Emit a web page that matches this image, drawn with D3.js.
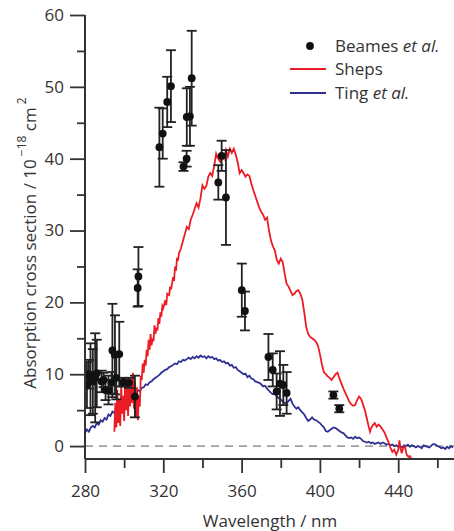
<!DOCTYPE html>
<html>
<head>
<meta charset="utf-8">
<script src="https://cdn.jsdelivr.net/npm/d3@7"></script>
<style>
html,body{margin:0;padding:0;background:#fff;}
svg{display:block;}
text{font-family:"Open Sans","Noto Sans",sans-serif;fill:#333;}
</style>
</head>
<body>
<svg id="chart" width="454" height="531"></svg>
<script>
// ---- data ----
const beamesWl  = [281.0,282.0,282.8,284.0,285.2,286.0,288.5,289.5,290.5,292.0,293.5,294.0,295.3,296.0,297.5,299.5,302.5,305.5,306.9,307.3,318.0,319.7,322.0,323.9,330.3,331.9,332.0,333.6,334.5,348.1,349.8,352.0,360.1,361.7,373.7,375.9,377.9,379.6,381.3,383.0,406.9,409.9];
const beamesVal = [8.5,10.0,9.3,9.0,9.5,10.1,9.0,9.2,7.8,7.8,8.8,13.3,12.7,9.5,12.8,8.9,8.8,6.9,22.0,23.6,41.6,43.5,47.9,50.1,38.9,40.0,45.8,45.9,51.2,36.7,40.4,34.6,21.7,18.8,12.4,10.6,7.6,8.7,8.5,7.4,7.1,5.2];
const beamesErr = [3.2,2.0,5.0,4.5,6.2,4.7,1.5,1.0,1.4,2.0,1.5,6.5,5.5,3.0,4.5,0.6,0.7,2.9,2.6,4.1,5.5,3.5,3.5,5.0,0.6,1.1,4.0,4.1,6.6,2.4,2.1,6.6,3.7,2.7,3.2,2.3,2.5,4.5,2.8,2.9,0.5,0.5];

const shepsWl  = [295.0,295.5,296.0,296.5,297.0,297.5,298.0,298.5,299.0,299.5,300.0,300.5,301.0,301.5,302.0,302.5,303.0,303.5,304.0,304.5,305.0,305.5,306.0,306.5,307.0,307.5,308.0,308.5,309.0,309.5,310.0,310.5,311.0,311.5,312.0,312.5,313.0,313.5,314.0,314.5,315.0,315.5,316.0,316.5,317.0,317.5,318.0,318.5,319.0,319.5,320.0,321.0,321.5,322.0,323.0,323.5,324.0,325.0,325.5,326.0,326.5,327.0,327.5,328.0,329.0,330.0,331.0,332.0,333.0,334.0,335.0,336.0,337.0,338.0,339.0,340.0,341.0,342.0,343.0,344.0,345.0,346.0,347.0,348.0,349.0,350.0,351.0,352.0,353.0,354.0,355.0,356.0,357.0,358.0,359.0,360.0,361.0,362.0,363.0,364.0,365.0,366.0,367.0,368.0,369.0,370.0,371.0,372.0,373.0,374.0,375.0,376.0,377.0,378.0,379.0,380.0,381.0,382.0,383.0,384.0,385.0,386.0,387.0,388.0,389.0,390.0,391.0,392.0,393.0,394.0,395.0,396.0,397.0,398.0,399.0,400.0,401.0,402.0,403.0,404.0,405.0,406.0,407.0,408.0,409.0,410.0,411.0,412.0,413.0,414.0,415.0,416.0,417.0,418.0,419.0,420.0,421.0,422.0,423.0,424.0,425.0,425.6,426.0,427.0,428.0,429.0,430.0,431.0,432.0,433.0,434.0,435.0,436.0,437.0,438.0,439.0,440.0,440.6,441.2,441.8,442.6,443.5,444.3,445.2,446.0,447.0];
const shepsVal = [2.0,6.0,2.6,7.8,3.2,6.5,2.8,8.5,4.5,7.0,3.5,9.0,5.0,9.6,4.2,8.0,5.5,9.4,6.0,10.2,5.2,9.0,4.0,8.2,3.6,7.0,5.5,9.8,9.2,11.5,10.2,12.0,11.2,13.4,12.5,14.8,13.4,15.6,14.0,15.0,14.6,16.8,15.6,16.5,16.1,17.8,17.0,18.6,18.0,19.5,19.2,20.3,19.6,21.2,21.0,22.2,21.8,23.5,23.0,25.0,24.4,26.2,25.8,26.8,27.5,28.5,29.5,30.5,30.2,31.5,32.2,33.0,33.8,33.2,34.5,36.3,35.8,36.2,37.5,38.0,37.6,39.0,40.7,40.0,39.6,40.5,40.0,41.2,40.3,41.4,40.8,41.4,40.6,39.5,38.0,38.4,38.0,37.5,37.8,37.6,36.5,35.6,34.8,34.0,33.2,32.6,32.2,31.5,31.8,30.0,28.6,27.8,27.2,25.9,25.4,26.1,25.6,24.0,22.6,22.2,21.6,21.0,21.2,21.6,21.7,21.2,20.4,18.6,16.6,15.6,15.2,15.0,14.8,14.5,14.0,12.8,11.4,10.3,10.0,9.7,9.5,9.2,9.6,10.0,10.2,9.4,8.7,8.0,7.4,6.8,6.2,5.8,5.6,5.7,6.4,6.9,6.6,5.8,5.0,3.8,2.6,2.0,2.4,2.9,3.2,2.7,3.0,2.7,2.3,1.9,1.2,0.6,-0.2,-0.8,-0.5,-1.2,-0.6,0.8,-0.3,-1.0,-0.2,-0.1,-1.2,-1.5,-1.4,-1.9];

const tingWl  = [280,281,282,283,284,285,286,287,288,289,290,291,292,293,294,295,296,297,298,299,300,301,302,303,304,305,306,307,308,309,310,311,312,313,314,315,316,317,318,319,320,321,322,323,324,325,326,327,328,329,330,331,332,333,334,335,336,337,338,339,340,341,342,343,344,345,346,347,348,349,350,351,352,353,354,355,356,357,358,359,360,361,362,363,364,365,366,367,368,369,370,371,372,373,374,375,376,377,378,379,380,381,382,383,384,385,386,387,388,389,390,391,392,393,394,395,396,397,398,399,400,401,402,403,404,405,406,407,408,409,410,411,412,413,414,415,416,417,418,419,420,421,422,423,424,425,426,427,428,429,430,431,432,433,434,435,436,437,438,439,440,441,442,443,444,445,446,447,448,449,450,451,452,453,454,455,456,457,458,459,460,461,462,463,464,465,466,467,468];
const tingVal = [1.8,2.3,2.0,2.6,2.8,2.6,3.2,3.0,3.6,3.4,3.9,3.7,4.4,4.2,4.8,4.6,5.4,5.2,5.7,5.5,6.0,5.9,6.3,6.6,6.5,7.0,7.3,7.8,7.6,8.1,8.2,8.6,8.5,8.9,9.0,9.3,9.5,9.7,9.9,10.2,10.4,10.6,10.7,11.0,11.1,11.3,11.5,11.4,11.8,11.7,12.0,11.9,12.1,12.3,12.1,12.4,12.2,12.5,12.3,12.6,12.4,12.5,12.2,12.5,12.3,12.4,12.1,12.2,11.9,12.0,11.7,11.8,11.5,11.6,11.2,11.3,10.9,11.0,10.6,10.4,10.2,10.0,10.1,9.6,9.8,9.4,9.3,9.0,8.9,8.8,8.6,8.3,8.4,8.0,7.7,7.4,7.2,7.3,6.9,6.7,6.5,6.2,6.0,5.9,6.3,6.6,5.9,5.5,5.2,5.4,5.0,4.7,4.4,3.9,3.5,3.7,4.0,3.7,3.6,3.4,3.2,2.9,2.6,2.1,2.0,2.2,2.4,2.6,2.5,2.3,2.1,1.9,1.8,1.5,1.2,1.1,1.2,1.0,1.3,1.1,1.2,1.0,0.7,0.6,0.5,0.6,0.4,0.5,0.3,0.4,0.5,0.3,0.5,0.4,0.2,0.3,0.1,0.2,0.0,0.1,-0.1,0.0,-0.2,0.1,0.0,0.2,-0.1,0.1,0.0,-0.2,0.0,-0.1,-0.3,0.1,0.0,-0.1,-0.2,0.1,0.3,0.2,0.0,-0.1,-0.3,-0.2,-0.4,-0.1,-0.3,0.0,-0.2];

const xMajorTicks = [280,320,360,400,440];
const xMinorTicks = [300,340,380,420,460];
const yMajorTicks = [0,10,20,30,40,50,60];
const yMinorTicks = [5,15,25,35,45,55];

// ---- layout ----
const svg = d3.select("#chart");
const mLeft = 85, mRight = 454, mTop = 15, mBottom = 459;
const x = d3.scaleLinear().domain([280, 468.5]).range([mLeft, mRight]);
const y = d3.scaleLinear().domain([-1.8, 60]).range([mBottom, mTop]);

const RED = "#ec1c24", BLUE = "#2e3192", AX = "#333333";

svg.append("defs").append("clipPath").attr("id","plotclip")
  .append("rect").attr("x", mLeft).attr("y", mTop).attr("width", mRight-mLeft).attr("height", mBottom-mTop);

// zero dashed line
svg.append("line").attr("x1", mLeft).attr("x2", mRight)
  .attr("y1", y(0)).attr("y2", y(0))
  .attr("stroke", "#555").attr("stroke-width", 1).attr("stroke-dasharray", "8,6");

const plot = svg.append("g").attr("clip-path", "url(#plotclip)");
const line = d3.line().x(d => x(d[0])).y(d => y(d[1]));

plot.append("path").datum(tingWl.map((w,i)=>[w,tingVal[i]]))
  .attr("d", line).attr("fill","none").attr("stroke", BLUE).attr("stroke-width", 1.8);
plot.append("path").datum(shepsWl.map((w,i)=>[w,shepsVal[i]]))
  .attr("d", line).attr("fill","none").attr("stroke", RED).attr("stroke-width", 1.8);

// error bars
const beames = beamesWl.map((w,i)=>({w, v:beamesVal[i], e:beamesErr[i]}));
const eb = plot.append("g").attr("stroke", "#222").attr("stroke-width", 1.8);
beames.forEach(d => {
  eb.append("line").attr("x1", x(d.w)).attr("x2", x(d.w)).attr("y1", y(d.v-d.e)).attr("y2", y(d.v+d.e));
  eb.append("line").attr("x1", x(d.w)-5).attr("x2", x(d.w)+5).attr("y1", y(d.v-d.e)).attr("y2", y(d.v-d.e));
  eb.append("line").attr("x1", x(d.w)-5).attr("x2", x(d.w)+5).attr("y1", y(d.v+d.e)).attr("y2", y(d.v+d.e));
});
plot.append("g").selectAll("circle").data(beames).join("circle")
  .attr("cx", d=>x(d.w)).attr("cy", d=>y(d.v)).attr("r", 3.9).attr("fill", "#111");

// axes
svg.append("g").attr("transform", `translate(0,${mBottom})`)
  .call(d3.axisBottom(x).tickValues(xMajorTicks).tickSize(14).tickPadding(12).tickFormat(d3.format("d")));
svg.append("g").attr("transform", `translate(0,${mBottom})`)
  .call(d3.axisBottom(x).tickValues(xMinorTicks).tickSize(9).tickFormat(""));
svg.append("g").attr("transform", `translate(${mLeft},0)`)
  .call(d3.axisLeft(y).tickValues(yMajorTicks).tickSize(15).tickPadding(6).tickFormat(d3.format("d")));
svg.append("g").attr("transform", `translate(${mLeft},0)`)
  .call(d3.axisLeft(y).tickValues(yMinorTicks).tickSize(8).tickFormat(""));
svg.selectAll(".domain").remove();
svg.selectAll(".tick line").attr("stroke", AX).attr("stroke-width", 1.8);
svg.selectAll(".tick text").attr("fill", AX).style("font-size", "17px").style("font-family", "'Open Sans', sans-serif");
// axis lines
svg.append("line").attr("x1", mLeft).attr("x2", mRight).attr("y1", mBottom).attr("y2", mBottom)
  .attr("stroke", AX).attr("stroke-width", 2);
svg.append("line").attr("x1", mLeft).attr("x2", mLeft).attr("y1", mTop).attr("y2", mBottom)
  .attr("stroke", AX).attr("stroke-width", 2);

// axis titles
svg.append("text").attr("x", 270).attr("y", 527).attr("text-anchor", "middle")
  .style("font-size", "17px").text("Wavelength / nm");

const yt = svg.append("text").attr("transform", `translate(36,${(mTop+mBottom)/2 + 6}) rotate(-90)`)
  .attr("text-anchor", "middle").style("font-size", "17px");
yt.append("tspan").text("Absorption cross section / 10");
yt.append("tspan").attr("dy", -10).style("font-size", "12px").text(" −18");
yt.append("tspan").attr("dy", 10).text("  cm");
yt.append("tspan").attr("dy", -10).style("font-size", "12px").text(" 2");

// legend
const lg = svg.append("g");
lg.append("circle").attr("cx", 310).attr("cy", 46).attr("r", 3.9).attr("fill", "#111");
lg.append("line").attr("x1", 290).attr("x2", 326).attr("y1", 69).attr("y2", 69).attr("stroke", RED).attr("stroke-width", 1.8);
lg.append("line").attr("x1", 290).attr("x2", 326).attr("y1", 93).attr("y2", 93).attr("stroke", BLUE).attr("stroke-width", 1.8);
const t1 = lg.append("text").attr("x", 335).attr("y", 52).style("font-size", "17px");
t1.append("tspan").text("Beames ");
t1.append("tspan").style("font-style", "italic").text("et al.");
lg.append("text").attr("x", 335).attr("y", 75).style("font-size", "17px").text("Sheps");
const t3 = lg.append("text").attr("x", 335).attr("y", 99).style("font-size", "17px");
t3.append("tspan").text("Ting ");
t3.append("tspan").style("font-style", "italic").text("et al.");
</script>
</body>
</html>
